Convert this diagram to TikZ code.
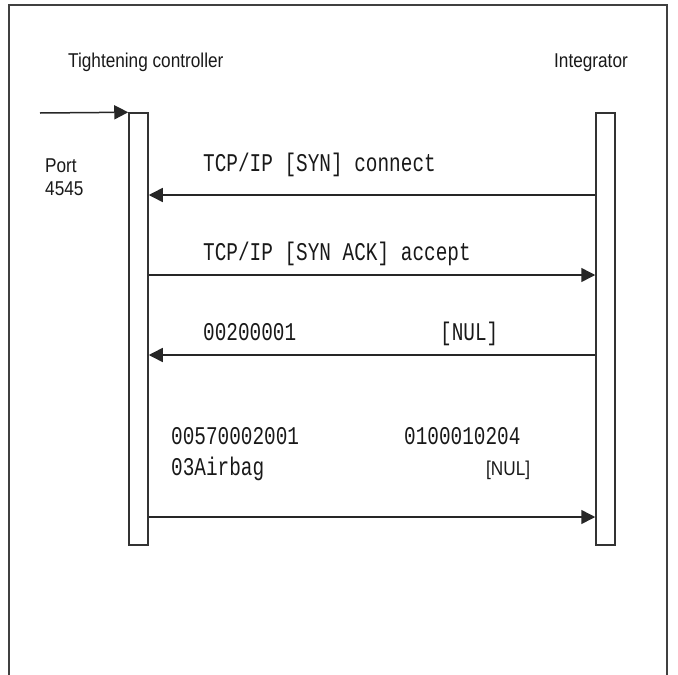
\documentclass[tikz,border=0pt]{standalone}
\usepackage{fontspec}
\usetikzlibrary{arrows.meta}
\newfontfamily\sansf[FakeStretch=0.86]{Liberation Sans}
\newfontfamily\monof[FakeStretch=0.76]{Liberation Mono}
\begin{document}
\begin{tikzpicture}[x=1pt,y=-1pt,
  lbl/.style={inner sep=0pt,anchor=base west,text=black!90},
  stxt/.style={lbl,font=\sansf\fontsize{20}{24}\selectfont},
  mtxt/.style={lbl,font=\monof\fontsize{25.5}{30}\selectfont},
  bar/.style={draw=black!80,line width=1.5pt,minimum width=19pt,minimum height=432pt,inner sep=0pt},
  msg/.style={draw=black!85,line width=1.5pt,-{Triangle[length=14pt,width=14pt]}},
  frame/.style={draw=black!75,line width=1.5pt}]
\useasboundingbox (0,0) rectangle (678,675);
\fill[white] (0,0) rectangle (678,675);
\draw[frame] (9,675) -- (9,5) -- (667,5) -- (667,675);
\node[bar] (L) at (138.5,329) {};
\node[bar] (R) at (605.5,329) {};
\node[stxt] (tc) at (68,67) {Tightening controller};
\node[stxt] (ig) at (554,67) {Integrator};
\node[stxt] (p1) at (45,172) {Port};
\node[stxt] (p2) at (45,195) {4545};
\coordinate (in) at (40,113);
\draw[msg] (in) -- (L.north west);
\node[mtxt] (m1) at (203,171) {TCP/IP [SYN] connect};
\draw[msg] (R.west |- 0,195) -- (L.east |- 0,195);
\node[mtxt] (m2) at (203,260.5) {TCP/IP [SYN ACK] accept};
\draw[msg] (L.east |- 0,275) -- (R.west |- 0,275);
\node[mtxt] (m3a) at (203,340) {00200001};
\node[mtxt] (m3b) at (440,340) {[NUL]};
\draw[msg] (R.west |- 0,355) -- (L.east |- 0,355);
\node[mtxt] (m4a) at (171,444) {00570002001};
\node[mtxt] (m4b) at (404,444) {0100010204};
\node[mtxt] (m4c) at (171,475) {03Airbag};
\node[stxt] (m4d) at (486,475) {[NUL]};
\draw[msg] (L.east |- 0,517) -- (R.west |- 0,517);
\end{tikzpicture}
\end{document}
